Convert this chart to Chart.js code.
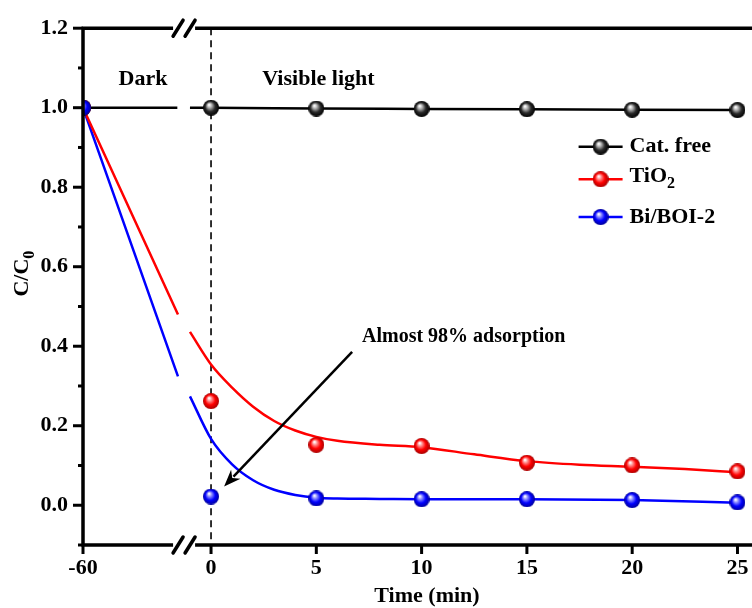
<!DOCTYPE html>
<html>
<head>
<meta charset="utf-8">
<script src="https://cdn.jsdelivr.net/npm/chart.js@4.4.1/dist/chart.umd.min.js"></script>
<style>
  html, body { margin: 0; padding: 0; background: #fff; }
  #wrap { width: 752px; height: 608px; }
</style>
</head>
<body>
<div id="wrap"><canvas id="chart" width="752" height="608"></canvas></div>
<script>
'use strict';

// Broken time axis: -60 min sits at the left edge, then 0..25 min of light
const TIME_LABELS = ['-60', '0', '5', '10', '15', '20', '25'];
const TIME_POS = [-6.08, 0, 5, 10, 15, 20, 25];

// Measured C/C0
const CAT_FREE = [1.0, 1.0, 0.998, 0.997, 0.996, 0.995, 0.994];
const TIO2 = [1.0, 0.262, 0.152, 0.149, 0.107, 0.100, 0.085];
const BI_BOI2 = [1.0, 0.022, 0.017, 0.015, 0.015, 0.013, 0.007];

// Fitted curves (null = gap at the axis break)
const FIT_CAT_X = [-6.08, -1.6, -1.3, -1.0, 0, 5, 10, 15, 20, 25];
const FIT_CAT_Y = [1.0, 1.0, null, 1.0, 1.0, 0.998, 0.997, 0.996, 0.995, 0.994];
const FIT_TIO2_X = [-6.08, -1.57, -1.3, -1.0, 0, 1, 2, 3, 4, 5, 6, 8, 10, 12.5, 15, 17.5, 20, 22.5, 25];
const FIT_TIO2_Y = [1.0, 0.48, null, 0.436, 0.354, 0.296, 0.248, 0.212, 0.188, 0.172, 0.162, 0.152, 0.146, 0.128, 0.111, 0.102, 0.097, 0.091, 0.083];
const FIT_BI_X = [-6.08, -1.57, -1.3, -1.0, 0, 1, 2, 3, 4, 5, 6, 8, 10, 15, 20, 25];
const FIT_BI_Y = [1.0, 0.324, null, 0.274, 0.167, 0.103, 0.063, 0.039, 0.026, 0.019, 0.017, 0.016, 0.015, 0.015, 0.013, 0.006];

// Axis limits
const X_MIN = -6.08;
const X_MAX = 25.69;
const Y_MIN = -0.1;
const Y_MAX = 1.2;
const BREAK_X = -1.28;

const SERIF = '"Liberation Serif", "Times New Roman", serif';
const font = (size) => `bold ${size}px ${SERIF}`;

const pts = (xs, ys) => xs.map((x, i) => ({ x: x, y: ys[i] }));

// Shaded ball markers
function ball(light, base, dark) {
  const r = 8;
  const c = document.createElement('canvas');
  c.width = c.height = 2 * r;
  const g = c.getContext('2d');
  const grad = g.createRadialGradient(r - 2, r - 3, 0.5, r, r, r);
  grad.addColorStop(0, '#ffffff');
  grad.addColorStop(0.25, light);
  grad.addColorStop(0.6, base);
  grad.addColorStop(1, dark);
  g.fillStyle = grad;
  g.beginPath();
  g.arc(r, r, r, 0, Math.PI * 2);
  g.fill();
  return c;
}

const BALL_BLACK = ball('#b0b0b0', '#2a2a2a', '#000000');
const BALL_RED = ball('#ff8a8a', '#ff0000', '#a80000');
const BALL_BLUE = ball('#8a8aff', '#0000ff', '#00009a');

const SERIES = [
  { name: 'Cat. free', color: '#000000', ball: BALL_BLACK },
  { name: 'TiO', sub: '2', color: '#ff0000', ball: BALL_RED },
  { name: 'Bi/BOI-2', color: '#0000ff', ball: BALL_BLUE },
];

function drawSub(ctx, main, sub, x, y, size, subSize, drop) {
  ctx.textAlign = 'left';
  ctx.textBaseline = 'middle';
  ctx.font = font(size);
  ctx.fillText(main, x, y);
  const w = ctx.measureText(main).width;
  if (sub) {
    ctx.font = font(subSize);
    ctx.fillText(sub, x + w, y + drop);
  }
}

// Frame, broken axes, annotations and legend
const decorations = {
  id: 'decorations',
  beforeDatasetsDraw(chart) {
    const { ctx, chartArea: a, scales: { x } } = chart;
    const px = x.getPixelForValue(0);
    ctx.save();
    ctx.strokeStyle = '#000';
    ctx.lineWidth = 1.6;
    ctx.setLineDash([7, 5]);
    ctx.beginPath();
    ctx.moveTo(px, a.top);
    ctx.lineTo(px, a.bottom);
    ctx.stroke();
    ctx.restore();
  },
  afterDraw(chart) {
    const { ctx, chartArea: a, scales: { x, y } } = chart;
    ctx.save();
    ctx.strokeStyle = '#000';
    ctx.fillStyle = '#000';
    ctx.lineCap = 'butt';

    // Spines
    ctx.lineWidth = 3.5;
    ctx.beginPath();
    ctx.moveTo(a.left, a.top);
    ctx.lineTo(a.left, a.bottom);
    ctx.moveTo(a.left - 1.5, a.bottom);
    ctx.lineTo(a.right, a.bottom);
    ctx.moveTo(a.left - 1.5, a.top);
    ctx.lineTo(a.right, a.top);
    ctx.stroke();

    // Y ticks, major every 0.2
    ctx.lineWidth = 3;
    y.ticks.forEach((t) => {
      const py = y.getPixelForValue(t.value);
      const major = Math.abs(Math.round(t.value * 10)) % 2 === 0;
      ctx.beginPath();
      ctx.moveTo(a.left - (major ? 10 : 5), py);
      ctx.lineTo(a.left, py);
      ctx.stroke();
    });

    // X ticks
    x.ticks.forEach((t) => {
      const px = x.getPixelForValue(t.value);
      ctx.beginPath();
      ctx.moveTo(px, a.bottom);
      ctx.lineTo(px, a.bottom + 9);
      ctx.stroke();
    });

    // Axis break marks
    const bx = x.getPixelForValue(BREAK_X);
    [a.top, a.bottom].forEach((yy) => {
      ctx.fillStyle = '#fff';
      ctx.fillRect(bx - 11, yy - 3, 22, 6);
      ctx.fillStyle = '#000';
      ctx.lineWidth = 3.5;
      ctx.lineCap = 'round';
      [-6, 6].forEach((d) => {
        ctx.beginPath();
        ctx.moveTo(bx + d - 5, yy + 8);
        ctx.lineTo(bx + d + 5, yy - 8);
        ctx.stroke();
      });
      ctx.lineCap = 'butt';
    });

    // Region labels
    ctx.font = font(22);
    ctx.textAlign = 'center';
    ctx.textBaseline = 'middle';
    ctx.fillText('Dark', x.getPixelForValue(-3.23), y.getPixelForValue(1.071));
    ctx.fillText('Visible light', x.getPixelForValue(5.1), y.getPixelForValue(1.071));

    // Annotation with arrow
    ctx.font = font(20);
    ctx.textAlign = 'left';
    ctx.fillText('Almost 98% adsorption', x.getPixelForValue(7.17), y.getPixelForValue(0.423));
    const x0 = x.getPixelForValue(6.7), y0 = y.getPixelForValue(0.386);
    const x1 = x.getPixelForValue(0.62), y1 = y.getPixelForValue(0.047);
    const ang = Math.atan2(y1 - y0, x1 - x0);
    const head = 17, half = 6.5;
    ctx.lineWidth = 2.5;
    ctx.beginPath();
    ctx.moveTo(x0, y0);
    ctx.lineTo(x1 - Math.cos(ang) * head * 0.8, y1 - Math.sin(ang) * head * 0.8);
    ctx.stroke();
    ctx.beginPath();
    ctx.moveTo(x1, y1);
    ctx.lineTo(x1 - Math.cos(ang) * head - Math.sin(ang) * half, y1 - Math.sin(ang) * head + Math.cos(ang) * half);
    ctx.lineTo(x1 - Math.cos(ang) * head * 0.7, y1 - Math.sin(ang) * head * 0.7);
    ctx.lineTo(x1 - Math.cos(ang) * head + Math.sin(ang) * half, y1 - Math.sin(ang) * head - Math.cos(ang) * half);
    ctx.closePath();
    ctx.fill();

    // Legend
    const lx = x.getPixelForValue(18.5);
    const rows = [0.902, 0.82, 0.725];
    SERIES.forEach((s, i) => {
      const ly = y.getPixelForValue(rows[i]);
      ctx.strokeStyle = s.color;
      ctx.lineWidth = 2.5;
      ctx.beginPath();
      ctx.moveTo(lx - 22, ly);
      ctx.lineTo(lx + 22, ly);
      ctx.stroke();
      ctx.drawImage(s.ball, lx - 8, ly - 8);
      ctx.fillStyle = '#000';
      drawSub(ctx, s.name, s.sub, lx + 29, s.sub ? ly - 3 : ly, 22, 16, 8);
    });

    // Axis titles
    ctx.fillStyle = '#000';
    ctx.font = font(22);
    ctx.textAlign = 'center';
    ctx.textBaseline = 'middle';
    ctx.fillText('Time (min)', 427, a.bottom + 51);

    ctx.translate(25, (a.top + a.bottom) / 2 - 13);
    ctx.rotate(-Math.PI / 2);
    ctx.font = font(22);
    const w1 = ctx.measureText('C/C').width;
    ctx.font = font(16);
    const w2 = ctx.measureText('0').width;
    drawSub(ctx, 'C/C', '0', -(w1 + w2) / 2, -3, 22, 16, 8);
    ctx.restore();
  },
};

const curve = (xs, ys, color) => ({
  data: pts(xs, ys),
  borderColor: color,
  borderWidth: 2.5,
  pointRadius: 0,
  cubicInterpolationMode: 'monotone',
  spanGaps: false,
  order: 5,
});

const markers = (ys, img, order) => ({
  data: pts(TIME_POS, ys),
  showLine: false,
  pointStyle: img,
  pointRadius: 8,
  clip: 0,
  order: order,
});

new Chart(document.getElementById('chart'), {
  type: 'line',
  data: {
    datasets: [
      curve(FIT_CAT_X, FIT_CAT_Y, '#000000'),
      curve(FIT_TIO2_X, FIT_TIO2_Y, '#ff0000'),
      curve(FIT_BI_X, FIT_BI_Y, '#0000ff'),
      markers(CAT_FREE, BALL_BLACK, 3),
      markers(TIO2, BALL_RED, 2),
      markers(BI_BOI2, BALL_BLUE, 1),
    ],
  },
  options: {
    responsive: false,
    animation: false,
    events: [],
    layout: { autoPadding: false, padding: { top: 23, right: 0, left: 0, bottom: 0 } },
    plugins: {
      legend: { display: false },
      tooltip: { enabled: false },
    },
    scales: {
      x: {
        type: 'linear',
        min: X_MIN,
        max: X_MAX,
        grid: { display: false, drawTicks: false, tickLength: 0 },
        border: { display: false },
        afterBuildTicks: (scale) => {
          scale.ticks = TIME_POS.map((v) => ({ value: v }));
        },
        afterFit: (scale) => {
          scale.height = 63;
          scale.paddingLeft = 0;
          scale.paddingRight = 0;
        },
        ticks: {
          color: '#000',
          padding: 10,
          maxRotation: 0,
          autoSkip: false,
          font: { family: SERIF, size: 22, weight: 'bold' },
          callback: (v, i) => TIME_LABELS[i],
        },
      },
      y: {
        min: Y_MIN,
        max: Y_MAX,
        grid: { display: false, drawTicks: false, tickLength: 0 },
        border: { display: false },
        afterFit: (scale) => { scale.width = 83; },
        ticks: {
          stepSize: 0.1,
          color: '#000',
          padding: 15,
          autoSkip: false,
          font: { family: SERIF, size: 22, weight: 'bold' },
          callback: (v) => (Math.abs(Math.round(v * 10)) % 2 === 0 ? (Math.round(v * 10) / 10).toFixed(1) : ''),
        },
      },
    },
  },
  plugins: [decorations],
});
</script>
</body>
</html>
